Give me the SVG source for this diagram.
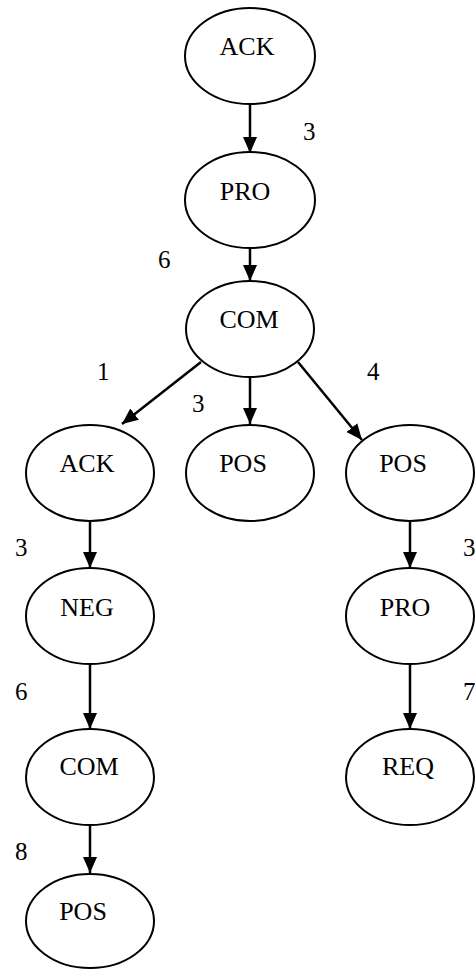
<svg xmlns="http://www.w3.org/2000/svg" width="475" height="969" viewBox="0 0 475 969">
<style>
.n ellipse{fill:#fff;stroke:#000;stroke-width:2}
.n text{font-family:"Liberation Serif","Times New Roman",serif;font-size:26px;text-anchor:middle;fill:#000}
.lbl{font-family:"Liberation Serif","Times New Roman",serif;font-size:25px;fill:#000}
.e line{stroke:#000;stroke-width:2.5;marker-end:url(#ah)}
</style>
<defs>
<marker id="ah" markerUnits="userSpaceOnUse" markerWidth="17" markerHeight="15" refX="16" refY="7" orient="auto" viewBox="0 0 17 15">
<path d="M0,0 L16,7 L0,14 Z" fill="#000"/>
</marker>
</defs>
<g id="edges" class="e">
<line x1="250" y1="104" x2="250" y2="153"/>
<line x1="250" y1="248" x2="250" y2="281"/>
<line x1="201" y1="362" x2="122" y2="424"/>
<line x1="250" y1="377" x2="250" y2="424"/>
<line x1="298" y1="362" x2="362" y2="440"/>
<line x1="90" y1="521" x2="90" y2="568"/>
<line x1="410" y1="521" x2="410" y2="568"/>
<line x1="90" y1="665" x2="90" y2="729"/>
<line x1="410" y1="665" x2="410" y2="729"/>
<line x1="90" y1="825" x2="90" y2="873"/>
</g>
<g id="edge-labels" class="lbl">
<text x="303" y="140">3</text>
<text x="158" y="268">6</text>
<text x="97" y="380">1</text>
<text x="192" y="412">3</text>
<text x="367" y="380">4</text>
<text x="15" y="556">3</text>
<text x="463" y="556">3</text>
<text x="15" y="700">6</text>
<text x="463" y="700">7</text>
<text x="15" y="860">8</text>
</g>
<g id="n_ack1" class="n"><ellipse cx="250" cy="56" rx="65" ry="48"/><text x="247" y="55">ACK</text></g>
<g id="n_pro1" class="n"><ellipse cx="250" cy="200" rx="65" ry="48"/><text x="245" y="200">PRO</text></g>
<g id="n_com1" class="n"><ellipse cx="250" cy="329" rx="64" ry="48"/><text x="249" y="328">COM</text></g>
<g id="n_ack2" class="n"><ellipse cx="90" cy="473" rx="64" ry="48"/><text x="87" y="472">ACK</text></g>
<g id="n_pos1" class="n"><ellipse cx="250" cy="473" rx="64" ry="48"/><text x="243" y="472">POS</text></g>
<g id="n_pos2" class="n"><ellipse cx="410" cy="473" rx="64" ry="48"/><text x="403" y="472">POS</text></g>
<g id="n_neg" class="n"><ellipse cx="90" cy="616" rx="64" ry="48"/><text x="87" y="616">NEG</text></g>
<g id="n_pro2" class="n"><ellipse cx="410" cy="616" rx="64" ry="48"/><text x="405" y="616">PRO</text></g>
<g id="n_com2" class="n"><ellipse cx="90" cy="777" rx="64" ry="48"/><text x="89" y="775">COM</text></g>
<g id="n_req" class="n"><ellipse cx="410" cy="777" rx="64" ry="48"/><text x="408" y="775">REQ</text></g>
<g id="n_pos3" class="n"><ellipse cx="90" cy="921" rx="64" ry="47"/><text x="83" y="920">POS</text></g>
</svg>
